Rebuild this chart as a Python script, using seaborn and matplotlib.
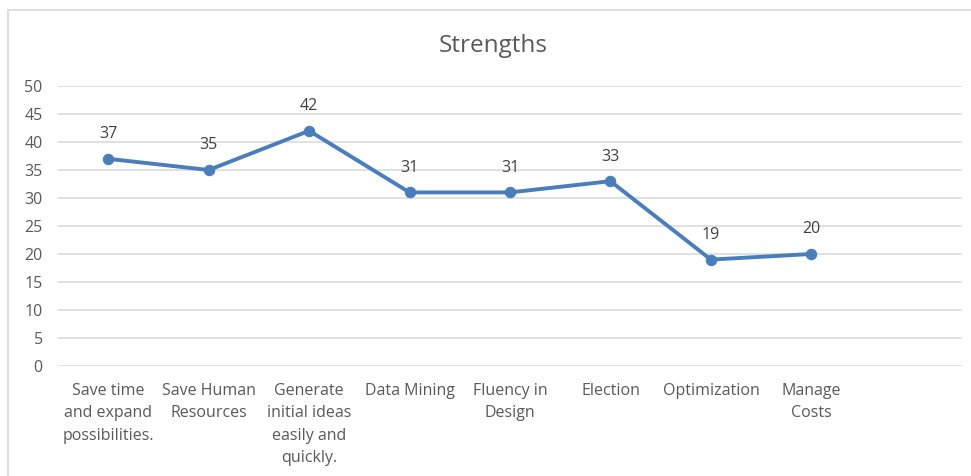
import matplotlib
matplotlib.use("Agg")
import matplotlib.pyplot as plt
import seaborn as sns
from matplotlib.patches import Rectangle

categories = ["Save time\nand expand\npossibilities.", "Save Human\nResources",
              "Generate\ninitial ideas\neasily and\nquickly.", "Data Mining",
              "Fluency in\nDesign", "Election", "Optimization", "Manage\nCosts"]
values = [37, 35, 42, 31, 31, 33, 19, 20]
yticks = [0, 5, 10, 15, 20, 25, 30, 35, 40, 45, 50]
title = "Strengths"

sns.set_theme(style="white")
plt.rcParams['font.family'] = ['Open Sans', 'DejaVu Sans']

W, H = 971, 476
fig = plt.figure(figsize=(W / 100, H / 100), dpi=100)
fig.patch.set_facecolor("white")
fig.patches.append(Rectangle((8 / W, -0.1), 1.1, (1 - 10 / H) + 0.1, transform=fig.transFigure,
                             fill=False, edgecolor="#D9D9D9", linewidth=1.2))

ax = fig.add_axes([58 / W, 1 - 366 / H, (962 - 58) / W, 280 / H])
ax.set_facecolor("none")
color = "#4A7EBB"
xs = list(range(len(categories)))
sns.lineplot(x=xs, y=values, ax=ax, color=color, linewidth=2.8, marker="o",
             markersize=7.5, markeredgecolor=color, sort=False)

for x, v in zip(xs, values):
    ax.annotate(str(v), (x, v), xytext=(0, 12), textcoords="offset points",
                ha="center", va="bottom", fontsize=11.5, color="#404040")

ax.set_xlim(-0.5, 8.5)
ax.set_ylim(0, 50)
ax.set_yticks(yticks)
ax.set_xticks(xs)
ax.set_xticklabels(categories, fontsize=11.5, color="#595959", linespacing=1.55, va="top")
ax.tick_params(axis="x", length=0, pad=12)
ax.tick_params(axis="y", length=0, pad=11, labelsize=11.5, labelcolor="#595959")
ax.grid(axis="y", color="#D9D9D9", linewidth=1.1)
ax.grid(axis="x", visible=False)
for s in ax.spines.values():
    s.set_visible(False)
ax.set_axisbelow(True)

fig.text(493 / W, 1 - 46 / H, title, ha="center", va="center", fontsize=17.5, color="#595959")

fig.savefig("out.png", dpi=100)
